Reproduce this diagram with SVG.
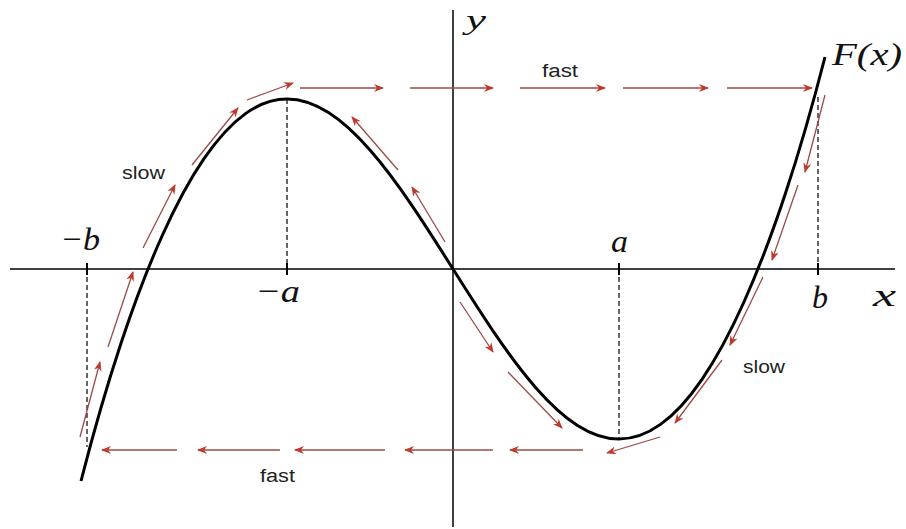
<svg xmlns="http://www.w3.org/2000/svg" width="906" height="529" viewBox="0 0 906 529">
  <defs>
    <style>
      .axis { stroke: #000; stroke-width: 1.5; fill: none; }
      .tick { stroke: #000; stroke-width: 2; }
      .guide { stroke: #000; stroke-width: 1.2; stroke-dasharray: 5 3; fill: none; }
      .curve { stroke: #000; stroke-width: 3; fill: none; stroke-linecap: butt; }
      .flow { stroke: #9a4a46; stroke-width: 1.3; fill: none; marker-end: url(#ah); }
      .word { font-family: "Liberation Sans", Arial, sans-serif; font-size: 18px; fill: #222; }
      .math { font-family: "Liberation Serif", "Times New Roman", serif; font-style: italic; font-size: 32px; fill: #111; }
    </style>
    <marker id="ah" viewBox="0 0 10 8" refX="9" refY="4" markerWidth="11" markerHeight="8" markerUnits="userSpaceOnUse" orient="auto">
      <path d="M0,0 L10,4 L0,8 L3,4 z" fill="#c0392b"/>
    </marker>
  </defs>
  <rect width="906" height="529" fill="#fff"/>

  <g id="axes">
    <line class="axis" x1="10" y1="269" x2="895" y2="269"/>
    <line class="axis" x1="453" y1="10" x2="453" y2="527"/>
    <line class="tick" x1="87" y1="263" x2="87" y2="275"/>
    <line class="tick" x1="287" y1="263" x2="287" y2="275"/>
    <line class="tick" x1="619" y1="263" x2="619" y2="275"/>
    <line class="tick" x1="818" y1="263" x2="818" y2="275"/>
  </g>

  <g id="guides">
    <line class="guide" x1="87" y1="269" x2="87" y2="447"/>
    <line class="guide" x1="287" y1="99" x2="287" y2="269"/>
    <line class="guide" x1="619" y1="269" x2="619" y2="439"/>
    <line class="guide" x1="818" y1="97" x2="818" y2="269"/>
  </g>

  <g id="curve">
    <path class="curve" d="M81,481 C94.34,428.91 107.66,383.35 121,343.2 C134.83,301.54 148.67,265.67 162.5,235 C176.33,204.33 190.17,178.9 204,158.7 C217.83,138.5 231.67,123.48 245.5,113.6 C259.33,103.72 273.17,99 287,99 C300.83,99 314.67,103.78 328.5,112.6 C342.33,121.42 356.17,134.29 370,150.1 C383.830,165.91 397.67,184.58 411.5,204.9 C425.33,225.22 439.17,247.13 453,269 C466.83,290.87 480.67,312.78 494.5,333.1 C508.33,353.42 522.17,372.09 536,387.9 C549.83,403.71 563.67,416.58 577.5,425.4 C591.33,434.22 605.17,439 619,439 C632.83,439 646.67,434.28 660.5,424.4 C674.33,414.52 688.17,399.5 702,379.3 C715.83,359.1 729.67,333.67 743.5,303 C757.33,272.33 771.17,236.46 785,194.8 C798.34,154.65 811.66,109.09 825,57"/>
  </g>

  <g id="connectors">
    <line class="flow" x1="80" y1="437" x2="100" y2="362"/>
    <line class="flow" x1="108" y1="347" x2="133" y2="272"/>
    <line class="flow" x1="143" y1="248" x2="175" y2="185"/>
    <line class="flow" x1="192" y1="165" x2="238" y2="108"/>
    <line class="flow" x1="247" y1="100" x2="293" y2="83"/>
    <line class="flow" x1="300" y1="88" x2="383" y2="88"/>
    <line class="flow" x1="410" y1="88" x2="493" y2="88"/>
    <line class="flow" x1="520" y1="88" x2="605" y2="88"/>
    <line class="flow" x1="623" y1="88" x2="708" y2="88"/>
    <line class="flow" x1="727" y1="88" x2="812" y2="88"/>
    <line class="flow" x1="825" y1="95" x2="805" y2="172"/>
    <line class="flow" x1="798" y1="185" x2="772" y2="260"/>
    <line class="flow" x1="763" y1="277" x2="730" y2="345"/>
    <line class="flow" x1="722" y1="360" x2="675" y2="423"/>
    <line class="flow" x1="660" y1="437" x2="607" y2="453"/>
    <line class="flow" x1="583" y1="450" x2="510" y2="450"/>
    <line class="flow" x1="493" y1="450" x2="405" y2="450"/>
    <line class="flow" x1="385" y1="450" x2="295" y2="450"/>
    <line class="flow" x1="280" y1="450" x2="198" y2="450"/>
    <line class="flow" x1="177" y1="450" x2="102" y2="450"/>
    <line class="flow" x1="460" y1="302" x2="493" y2="352"/>
    <line class="flow" x1="508" y1="372" x2="562" y2="428"/>
    <line class="flow" x1="445" y1="242" x2="412" y2="187"/>
    <line class="flow" x1="398" y1="170" x2="352" y2="117"/>
  </g>

  <g id="labels">
    <text class="word" x="122" y="179" textLength="43" lengthAdjust="spacingAndGlyphs">slow</text>
    <text class="word" x="743" y="373" textLength="42" lengthAdjust="spacingAndGlyphs">slow</text>
    <text class="word" x="542" y="77" textLength="36" lengthAdjust="spacingAndGlyphs">fast</text>
    <text class="word" x="260" y="482" textLength="35" lengthAdjust="spacingAndGlyphs">fast</text>
    <text class="math" x="466" y="29" style="font-size:28px" textLength="20" lengthAdjust="spacingAndGlyphs">y</text>
    <text class="math" x="832" y="65" textLength="70" lengthAdjust="spacingAndGlyphs">F(x)</text>
    <text class="math" x="60" y="250" textLength="40" lengthAdjust="spacingAndGlyphs">−b</text>
    <text class="math" x="255" y="302" textLength="45" lengthAdjust="spacingAndGlyphs">−a</text>
    <text class="math" x="611" y="252" textLength="17" lengthAdjust="spacingAndGlyphs">a</text>
    <text class="math" x="812" y="308" textLength="16" lengthAdjust="spacingAndGlyphs">b</text>
    <text class="math" x="873" y="306" textLength="23" lengthAdjust="spacingAndGlyphs">x</text>
  </g>
</svg>
